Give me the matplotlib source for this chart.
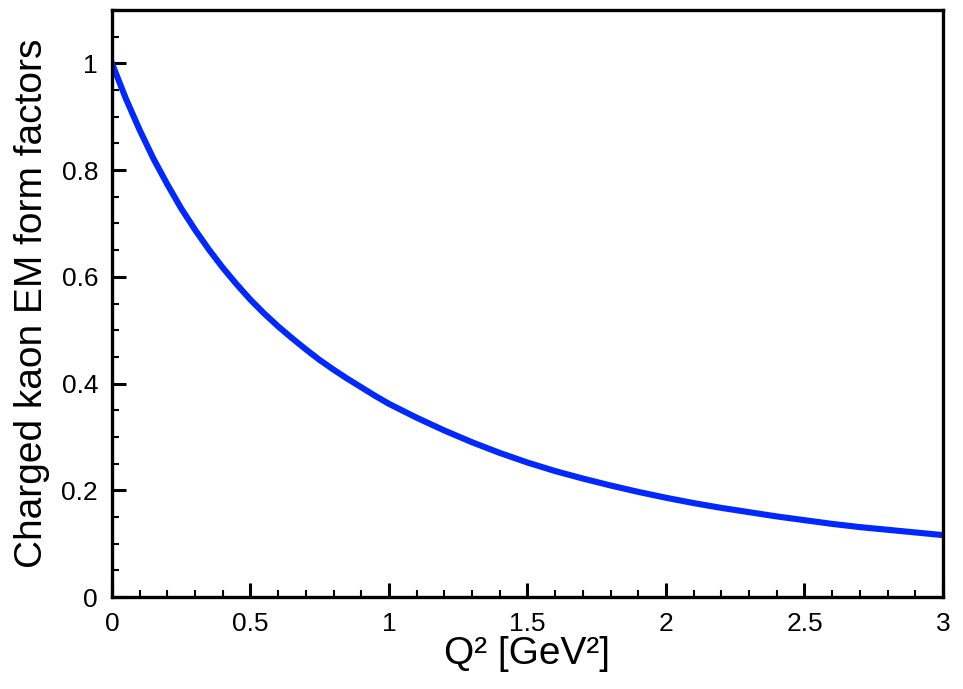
import matplotlib
matplotlib.use("Agg")
import matplotlib.pyplot as plt
from matplotlib.ticker import MultipleLocator, FuncFormatter

plt.rcParams['font.family'] = ['Liberation Sans', 'DejaVu Sans']

q2 = [0.0, 0.05, 0.1, 0.15, 0.2, 0.25, 0.3, 0.35, 0.4, 0.45,
      0.5, 0.55, 0.6, 0.65, 0.7, 0.75, 0.8, 0.85, 0.9, 0.95, 1.0,
      1.1, 1.2, 1.3, 1.4, 1.5, 1.6, 1.7, 1.8, 1.9, 2.0,
      2.1, 2.2, 2.3, 2.4, 2.5, 2.6, 2.7, 2.8, 2.9, 3.0]
ff = [1.0, 0.934, 0.875, 0.821, 0.773, 0.728, 0.688, 0.651, 0.617, 0.586,
      0.557, 0.531, 0.507, 0.485, 0.464, 0.444, 0.426, 0.409, 0.393, 0.377, 0.362,
      0.336, 0.312, 0.290, 0.270, 0.252, 0.236, 0.222, 0.209, 0.197, 0.186,
      0.176, 0.167, 0.159, 0.151, 0.144, 0.137, 0.131, 0.126, 0.121, 0.116]

xlabel = "Q² [GeV²]"
ylabel = "Charged kaon EM form factors"

fig = plt.figure(figsize=(9.63, 6.89), dpi=100)
ax = fig.add_axes([0.1163, 0.1335, 0.9792 - 0.1163, 0.9855 - 0.1335])
ax.plot(q2, ff, color='#0028ff', lw=4.4, solid_joinstyle='round')

ax.set_xlim(0, 3)
ax.set_ylim(0, 1.1)
ax.xaxis.set_major_locator(MultipleLocator(0.5))
ax.xaxis.set_minor_locator(MultipleLocator(0.1))
ax.yaxis.set_major_locator(MultipleLocator(0.2))
ax.yaxis.set_minor_locator(MultipleLocator(0.05))

def fmt(v, pos):
    s = f"{v:.1f}"
    if s.endswith(".0"):
        s = s[:-2]
    return s

ax.xaxis.set_major_formatter(FuncFormatter(fmt))
ax.yaxis.set_major_formatter(FuncFormatter(fmt))

ax.tick_params(which='both', direction='in', top=False, right=False)
ax.tick_params(which='major', length=10, width=2.2, labelsize=19)
ax.tick_params(axis='x', which='major', pad=11)
ax.tick_params(axis='y', which='major', pad=10)
ax.tick_params(which='minor', length=5, width=1.5)
for sp in ax.spines.values():
    sp.set_linewidth(2.4)

ax.set_xlabel(xlabel, fontsize=28, labelpad=0)
ax.set_ylabel(ylabel, fontsize=28, labelpad=8)

fig.savefig("out.png", dpi=100)
